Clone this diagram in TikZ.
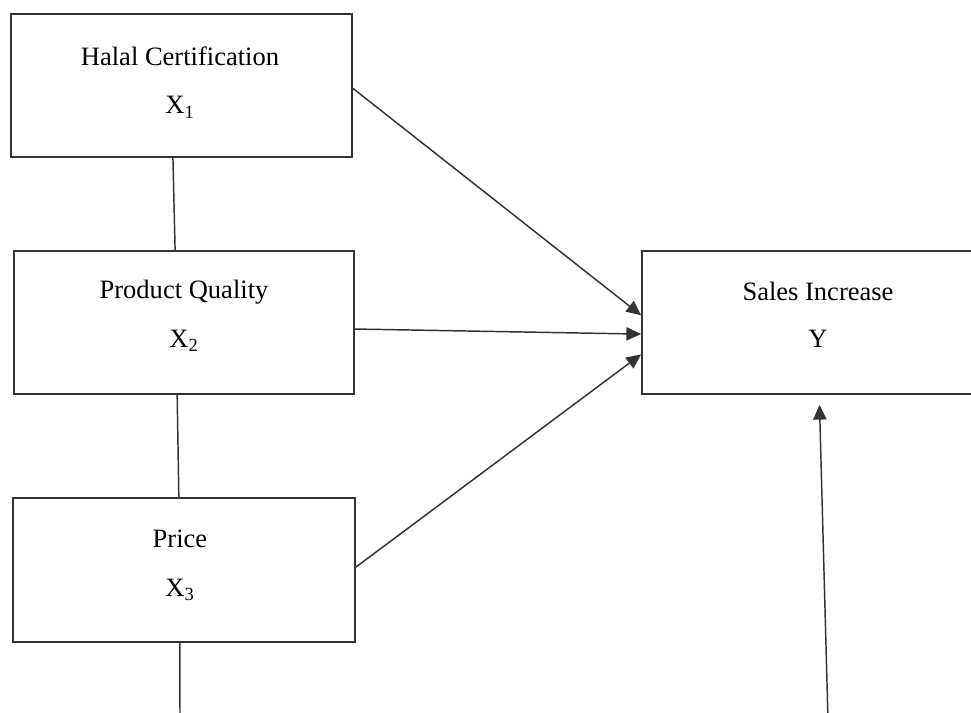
\documentclass[tikz,border=0pt]{standalone}
\usepackage{fontspec}
\setmainfont{Liberation Serif}
\usetikzlibrary{arrows.meta,calc}
\begin{document}
\begin{tikzpicture}[x=0.75pt,y=-0.75pt,
  box/.style={draw=black!80,line width=1.4pt,minimum height=107pt,inner sep=0pt},
  lbl/.style={font=\fontsize{19.9}{24}\selectfont,inner sep=0pt,anchor=base},
  link/.style={draw=black!80,line width=1.1pt},
  arr/.style={link,-{Triangle[length=11pt,width=10pt]}}]
\useasboundingbox (0,0) rectangle (971,713);
\begin{scope}
\clip (0,0) rectangle (971,713);
\node[box,minimum width=255.75pt,minimum height=107.25pt] (hal) at (181.5,85.5) {};
\node[box,minimum width=255pt,minimum height=107.25pt] (pq) at (184,322.5) {};
\node[box,minimum width=256.5pt,minimum height=108pt] (pr) at (184,570) {};
\node[box,minimum width=261pt,minimum height=107.25pt] (si) at (816,322.5) {};

\node[lbl] (t1) at (180,66) {Halal Certification};
\node[lbl] (s1) at (180,114) {X\textsubscript{1}};
\node[lbl] (t2) at (184,298) {Product Quality};
\node[lbl] (s2) at (184,347) {X\textsubscript{2}};
\node[lbl] (t3) at (180,547) {Price};
\node[lbl] (s3) at (180,596) {X\textsubscript{3}};
\node[lbl] (t4) at (818,300) {Sales Increase};
\node[lbl] (s4) at (818,347) {Y};

\coordinate (b1) at (180,720);
\coordinate (b2) at (828,720);

\draw[link] ($(hal.south west)!0.475!(hal.south east)$) -- ($(pq.north west)!0.474!(pq.north east)$);
\draw[link] ($(pq.south west)!0.48!(pq.south east)$) -- ($(pr.north west)!0.485!(pr.north east)$);
\draw[link] ($(pr.south west)!0.488!(pr.south east)$) -- (b1);
\draw[arr] ($(hal.north east)!0.52!(hal.south east)$) -- ($(si.north west)!0.45!(si.south west)$);
\draw[arr] ($(pq.north east)!0.545!(pq.south east)$) -- ($(si.north west)!0.58!(si.south west)$);
\draw[arr] ($(pr.north east)!0.48!(pr.south east)$) -- ($(si.north west)!0.72!(si.south west)$);
\draw[arr] (b2) -- ($(si.south west)!0.51!(si.south east)+(0,10)$);
\end{scope}
\end{tikzpicture}
\end{document}
